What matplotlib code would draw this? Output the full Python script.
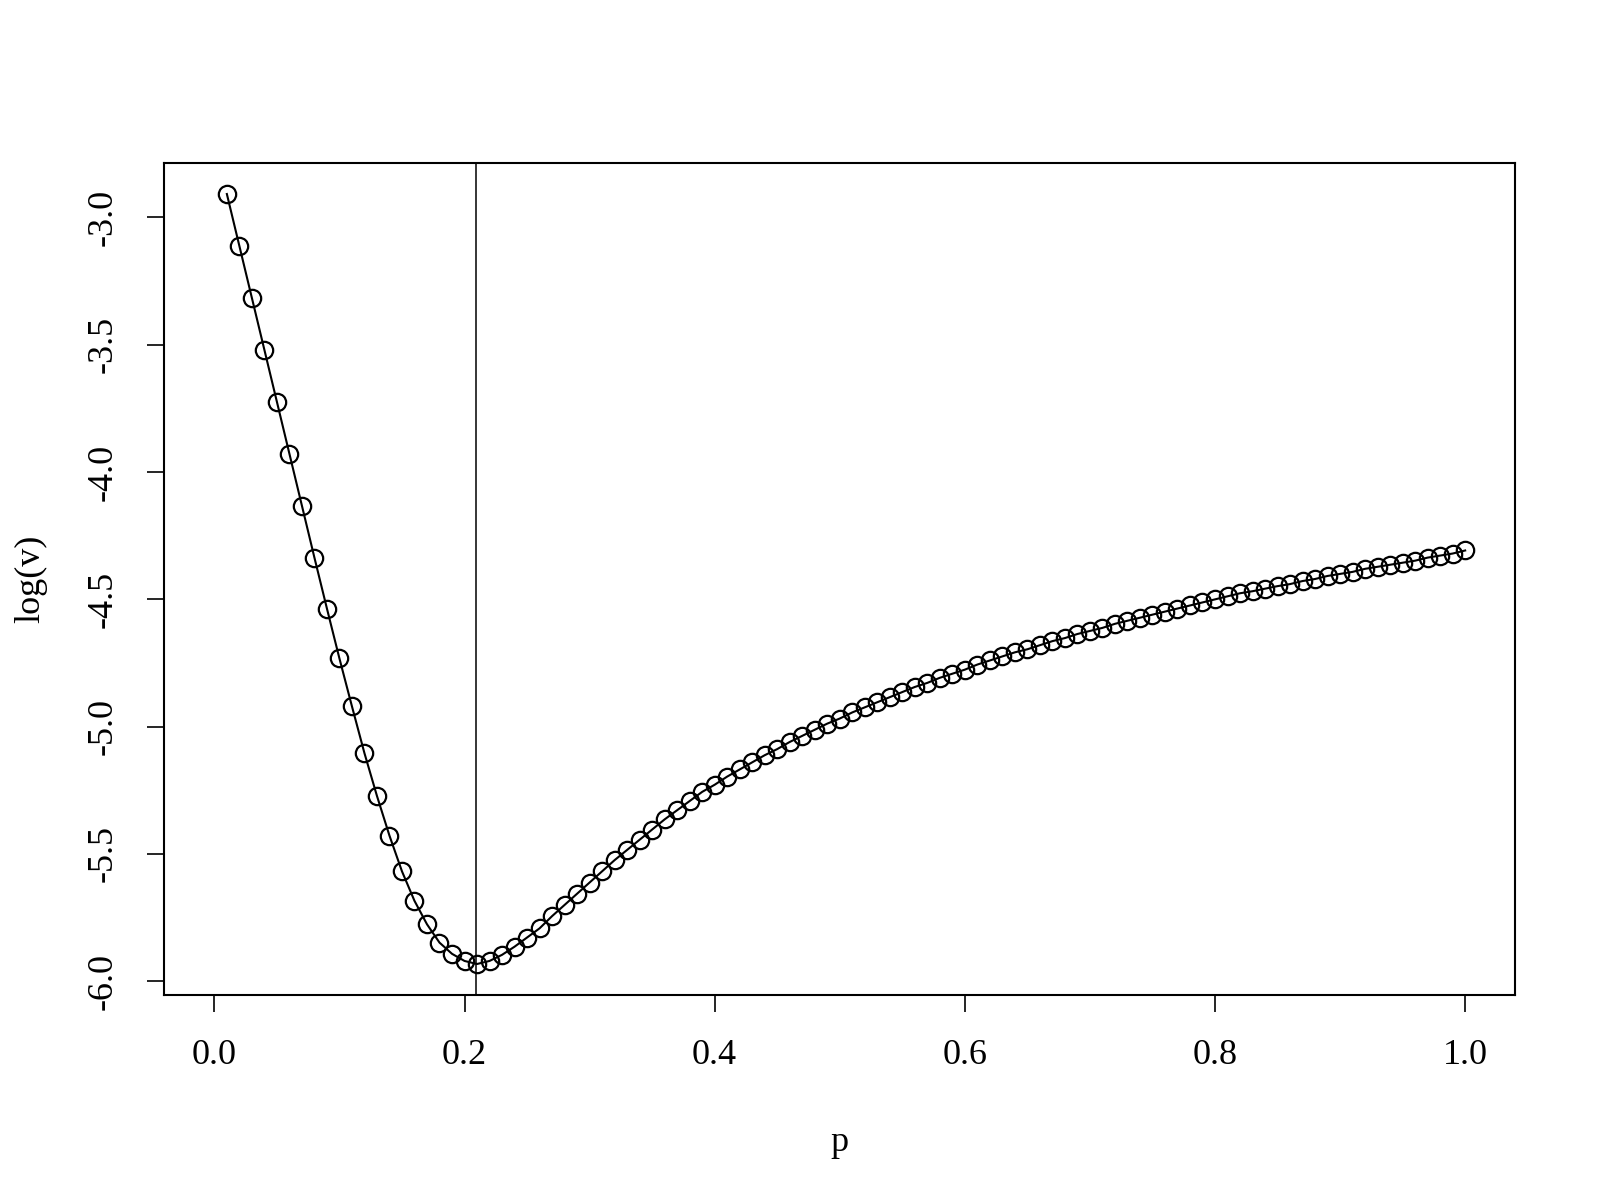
import numpy as np
import matplotlib
matplotlib.use("Agg")
import matplotlib.pyplot as plt

plt.rcParams['font.family'] = ['Liberation Serif', 'DejaVu Serif']

# p 值（0.01 到 1.00）
p = [round(0.01 * i, 2) for i in range(1, 101)]

# log(v) 数值
log_v = [
    -2.908, -3.112, -3.316, -3.520, -3.724, -3.928, -4.132, -4.336, -4.536, -4.732,
    -4.920, -5.104, -5.272, -5.428, -5.568, -5.684, -5.776, -5.848, -5.892, -5.920,
    -5.932, -5.920, -5.896, -5.864, -5.828, -5.792, -5.744, -5.700, -5.656, -5.612,
    -5.568, -5.524, -5.484, -5.444, -5.404, -5.364, -5.328, -5.292, -5.256, -5.228,
    -5.196, -5.168, -5.140, -5.112, -5.088, -5.060, -5.036, -5.012, -4.988, -4.968,
    -4.944, -4.924, -4.904, -4.884, -4.864, -4.844, -4.828, -4.808, -4.792, -4.776,
    -4.756, -4.740, -4.724, -4.708, -4.696, -4.680, -4.664, -4.652, -4.636, -4.624,
    -4.612, -4.596, -4.584, -4.572, -4.560, -4.548, -4.536, -4.524, -4.512, -4.500,
    -4.488, -4.476, -4.468, -4.458, -4.448, -4.440, -4.428, -4.420, -4.408, -4.400,
    -4.392, -4.380, -4.372, -4.364, -4.356, -4.348, -4.336, -4.328, -4.320, -4.308,
]

# 最小值位置的竖线
p_min = 0.209

x_ticks = [0.0, 0.2, 0.4, 0.6, 0.8, 1.0]
y_ticks = [-6.0, -5.5, -5.0, -4.5, -4.0, -3.5, -3.0]

fig = plt.figure(figsize=(16, 12), dpi=100)
ax = fig.add_axes([0.1027, 0.171, 0.8443, 0.693])

ax.plot(p, log_v, '-', color='black', linewidth=1.5)
ax.plot(p, log_v, 'o', markerfacecolor='none', markeredgecolor='black',
        markersize=12.5, markeredgewidth=1.6)
ax.axvline(p_min, color='black', linewidth=1.1)

# 类似 R 的 4% 扩展
ax.set_xlim(-0.04, 1.04)
ymin, ymax = min(log_v), max(log_v)
pad = 0.04 * (ymax - ymin)
ax.set_ylim(ymin - pad, ymax + pad)

ax.set_xticks(x_ticks)
ax.set_xticklabels([f"{t:.1f}" for t in x_ticks])
ax.set_yticks(y_ticks)
ax.set_yticklabels([f"{t:.1f}" for t in y_ticks], rotation=90, va='center')

ax.tick_params(axis='both', direction='out', length=12, width=1.2,
               labelsize=26, pad=20)

for s in ax.spines.values():
    s.set_linewidth(1.5)

ax.set_xlabel('p', fontsize=26)
ax.xaxis.set_label_coords(0.5, -0.178)
ax.xaxis.label.set_va('center')
ax.set_ylabel('log(v)', fontsize=26)
ax.yaxis.set_label_coords(-0.0987, 0.5)
ax.yaxis.label.set_va('center')

fig.savefig('out.png', dpi=100)
